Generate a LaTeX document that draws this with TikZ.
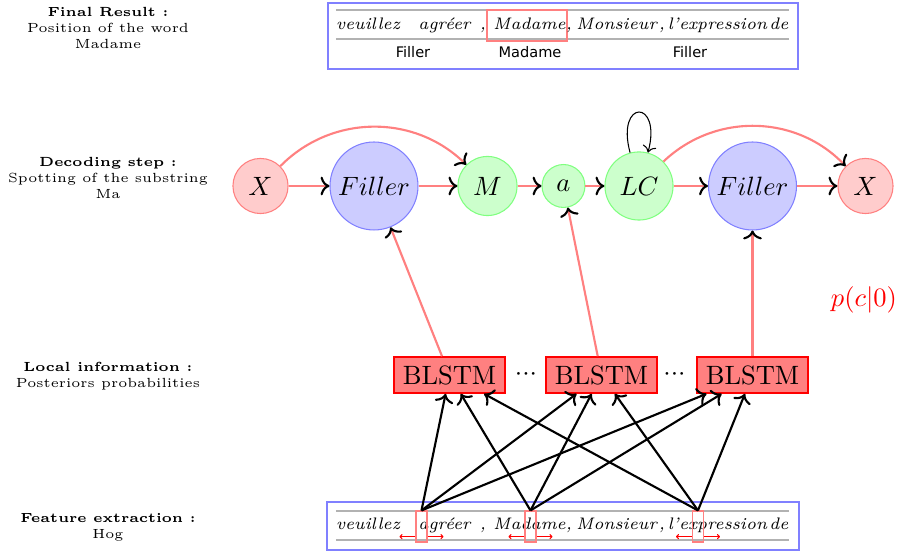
\documentclass[tikz,border=0pt]{standalone}
\usepackage{fontspec}
\newfontfamily\dejavu{DejaVu Sans}
\usetikzlibrary{arrows.meta,calc}
\tikzset{
 redx/.style={circle,draw=red!50,fill=red!20,thin,minimum size=20.8pt,inner sep=0pt},
 bluef/.style={circle,draw=blue!50,fill=blue!20,thin,minimum size=33.2pt,inner sep=0pt},
 greenn/.style={circle,draw=green!50,fill=green!20,thin,inner sep=0pt},
 blstm/.style={draw=red,fill=red!50,minimum width=41.9pt,minimum height=13.6pt,inner sep=0pt,semithick},
 redlink/.style={draw=red!50,thick,-{To[color=black]}},
 featlink/.style={draw=black,thick,-{To}},
 featbox/.style={draw=red!50,thin,minimum width=4.15pt,minimum height=11.7pt,inner sep=0pt},
 imgframe/.style={draw=blue!50,semithick},
 ruling/.style={draw=black!30,thin},
 lefttxt/.style={font=\tiny,align=center,inner sep=0pt},
 hand/.style={font=\fontsize{6.3}{8}\selectfont\itshape,anchor=base,inner sep=0pt},
 tag/.style={font=\dejavu\fontsize{5.5}{6.5}\selectfont,inner sep=0pt},
 winshift/.style={draw=red,thin,-{To[length=1.2pt,width=2pt]}},
}
\begin{document}
\begin{tikzpicture}[x=0.3774pt,y=-0.3774pt]
\useasboundingbox (0,0) rectangle (898,552);

% left labels
\node[lefttxt] (l1) at (108,28) {\textbf{Final Result :}\\Position of the word\\Madame};
\node[lefttxt] (l2) at (108,178) {\textbf{Decoding step :}\\Spotting of the substring\\Ma};
\node[lefttxt] (l3) at (108,376) {\textbf{Local information :}\\Posteriors probabilities};
\node[lefttxt] (l4) at (108,527) {\textbf{Feature extraction :}\\Hog};

% top image
\draw[imgframe] (328,3) rectangle (798,69);
\draw[ruling] (336,10) -- (789,10);
\draw[ruling] (336,39) -- (789,39);
\draw[red!50,thin] (487,10) rectangle (567,41);
\foreach \yy in {30,530}{
 \node[hand] at (368,\yy) {veuillez};
 \node[hand] at (444.5,\yy) {agréer};
 \node[hand] at (483,\yy) {,};
 \node[hand] at (529.5,\yy) {Madame};
 \node[hand] at (569,\yy) {,};
 \node[hand] at (616.5,\yy) {Monsieur};
 \node[hand] at (662,\yy) {,};
 \node[hand] at (717.5,\yy) {l'expression};
 \node[hand] at (779,\yy) {de};
}
\node[tag] (t1) at (413,52) {Filler};
\node[tag] (t2) at (530,52) {Madame};
\node[tag] (t3) at (690,52) {Filler};

% bottom image
\draw[imgframe] (327,502) rectangle (799,550);
\draw[ruling] (336,511) -- (789,511);
\draw[ruling] (336,540) -- (789,540);
\node[featbox] (fb1) at (421.5,526.5) {};
\node[featbox] (fb2) at (530.5,526.5) {};
\node[featbox] (fb3) at (698,526.5) {};
\foreach \f in {fb1,fb2,fb3}{
 \draw[winshift] ($(\f.south west)+(0,-6)$) -- ++(-16,0);
 \draw[winshift] ($(\f.south east)+(0,-6)$) -- ++(16,0);
}

% decoding graph
\node[redx] (x1) at (260.5,186) {$X$};
\node[bluef] (f1) at (374,186) {$Filler$};
\node[greenn,minimum size=22.3pt] (m) at (487.5,186) {$M$};
\node[greenn,minimum size=16.2pt] (a) at (563.5,186) {$a$};
\node[greenn,minimum size=25.7pt] (lc) at (639,186) {$LC$};
\node[bluef] (f2) at (752.5,186) {$Filler$};
\node[redx] (x2) at (865.5,186) {$X$};

\draw[redlink] (x1) -- (f1);
\draw[redlink] (f1) -- (m);
\draw[redlink] (m) -- (a);
\draw[redlink] (a) -- (lc);
\draw[redlink] (lc) -- (f2);
\draw[redlink] (f2) -- (x2);
\draw[redlink] (x1) to[bend left=45] (m);
\draw[redlink] (lc) to[bend left=45] (x2);
\draw[black,thin,-{To}] (lc) to[loop above] (lc);

\node[text=red] (p) at (864,300) {$p(c|0)$};

% BLSTMs
\node[blstm] (b1) at (449.5,375) {BLSTM};
\node[blstm] (b2) at (601.5,375) {BLSTM};
\node[blstm] (b3) at (752.5,375) {BLSTM};
\node (d1) at (526,375) {${\cdot}{\cdot}{\cdot}$};
\node (d2) at (674.5,375) {${\cdot}{\cdot}{\cdot}$};

\draw[redlink] (b1) -- (f1);
\draw[redlink] (b2) -- (a);
\draw[redlink] (b3) -- (f2);

\foreach \f in {fb1,fb2,fb3}{
 \foreach \b in {b1,b2,b3}{
  \draw[featlink] (\f.north) -- (\b);
 }
}
\end{tikzpicture}
\end{document}
